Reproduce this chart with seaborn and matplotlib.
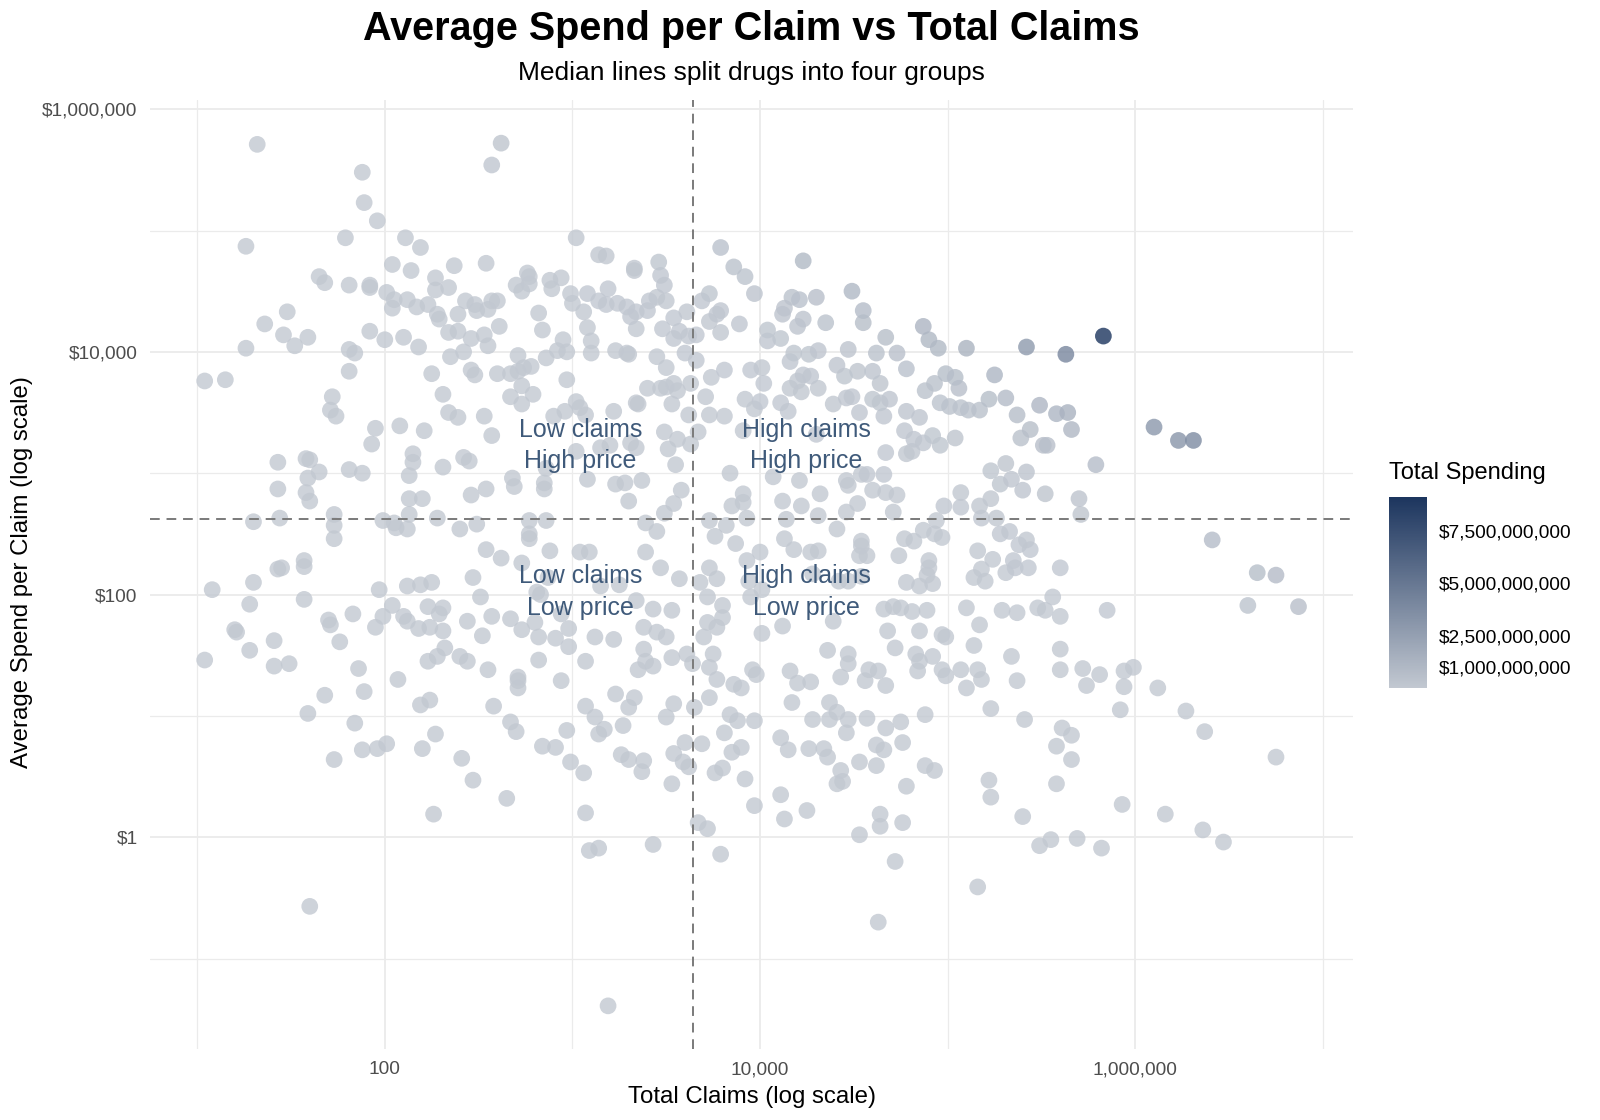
import numpy as np
import pandas as pd
import matplotlib
matplotlib.use("Agg")
from matplotlib import pyplot as plt
from matplotlib.colors import LinearSegmentedColormap, Normalize
from matplotlib.ticker import FixedLocator, FuncFormatter, NullFormatter
import seaborn as sns

# values; both axes are log scale so they are kept as log10
log_claims = [
    # upper left
    1.32, 1.88, 1.89, 1.96, 1.26, 1.79, 2.11, 2.19, 2.04, 2.14,
    2.37, 1.65, 1.68, 1.81, 1.92, 1.92, 2.27, 2.27, 2.34, 2.01,
    2.05, 2.04, 2.12, 2.17, 2.23, 2.28, 2.29, 2.39, 2.43, 2.48,
    2.49, 1.48, 1.36, 1.46, 1.52, 1.59, 1.26, 1.92, 2.00, 2.10,
    2.18, 2.34, 2.39, 2.46, 1.81, 1.84, 1.81, 2.35, 2.42, 2.46,
    2.48, 2.25, 1.04, 1.15, 1.72, 1.71, 1.74, 2.31, 2.34, 2.39,
    # upper centre
    2.62, 2.57, 3.02, 3.14, 3.18, 3.33, 3.33, 3.46, 3.47, 3.49,
    3.79, 3.86, 3.92, 3.97, 2.54, 2.76, 2.77, 2.70, 2.73, 2.77,
    2.88, 2.94, 2.89, 2.99, 3.00, 3.08, 3.19, 3.14, 3.18, 3.24,
    3.29, 3.31, 3.34, 3.40, 3.41, 3.45, 3.50, 3.06, 3.08, 3.10,
    3.10, 3.34, 3.48, 3.54, 3.54, 3.57, 3.61, 3.62, 3.66, 3.69,
    3.73, 3.77, 3.79, 3.73, 3.79, 3.89, 4.04, 4.04, 2.57, 2.60,
    2.55, 2.61, 2.53, 2.55, 2.82, 2.84, 2.95, 2.92, 2.97, 2.86,
    2.71, 2.78, 2.60, 2.67, 2.71, 2.74, 2.73, 2.79, 2.67, 2.73,
    2.97, 3.23, 3.29, 3.30, 3.45, 3.50, 3.60, 3.66, 3.74, 3.81,
    3.95, 4.01, 4.02, 3.92, 4.00, 3.71, 3.63, 3.54, 3.56, 3.47,
    3.40, 3.50, 3.34, 3.35, 3.53, 3.22, 3.02, 3.04, 2.96, 2.90,
    3.07, 2.53, 3.62, 3.73, 3.81, 3.97,
    # upper right
    4.23, 4.49, 4.55, 4.55, 4.30, 4.17, 4.21, 4.13, 4.12, 4.23,
    4.20, 4.35, 4.11, 4.67, 4.87, 4.90, 4.95, 5.10, 5.42, 5.63,
    4.47, 4.62, 4.73, 4.31, 4.26, 4.18, 4.16, 4.41, 4.45, 4.52,
    4.60, 4.64, 4.78, 4.23, 4.27, 4.20, 4.16, 4.22, 4.31, 4.99,
    4.93, 5.04, 5.06, 4.88, 5.25, 5.22, 5.31, 5.49, 5.58, 5.37,
    5.17, 5.11, 5.07, 5.01, 4.96, 4.39, 4.46, 4.49, 4.60, 4.64,
    4.69, 4.66, 4.78, 4.85, 4.11, 4.15, 4.53, 5.83, 5.64,
    # middle left
    1.95, 1.93, 2.08, 2.21, 2.57, 1.43, 1.58, 1.60, 1.65, 1.59,
    1.43, 1.58, 1.60, 1.81, 1.88, 2.15, 2.15, 2.13, 2.31, 2.42,
    2.45, 2.13, 2.20, 2.46, 2.54, 2.68, 2.69, 2.85, 2.85, 2.86,
    3.02, 1.30, 1.44, 1.73, 1.73, 1.73, 1.99, 2.05, 2.06, 2.12,
    2.13, 2.28, 2.40, 2.49, 2.77, 2.77, 2.77, 2.86, 2.88, 2.54,
    2.62, 2.73, 3.04, 1.08, 1.30, 1.28, 1.43, 1.45, 1.57, 1.57,
    1.57, 1.20, 1.21, 1.28, 1.41, 1.04, 1.41, 1.49, 1.70, 1.71,
    1.76, 1.83, 1.86, 1.89, 1.68, 1.59, 1.84, 1.97, 1.99, 1.95,
    2.04, 2.10, 2.12, 2.12, 2.19, 2.25, 2.23, 2.31, 2.29, 2.18,
    2.24, 2.31, 2.32, 2.28, 2.23, 2.40, 2.44, 2.07, 2.19, 2.24,
    2.47, 2.51, 2.44, 2.52, 2.57, 2.67, 2.73, 2.80, 2.82, 2.91,
    2.98, 2.98, 2.81, 2.83, 2.87, 2.94, 2.82, 2.55, 2.71, 2.71,
    2.71, 2.94, 2.58, 2.67, 2.70, 2.97, 2.27,
    # middle centre
    3.49, 3.56, 3.51, 3.63, 3.67, 3.55, 3.31, 3.34, 3.20, 3.15,
    3.08, 3.23, 3.28, 3.37, 3.30, 3.58, 3.54, 3.49, 3.39, 3.45,
    3.39, 3.47, 3.57, 3.68, 3.09, 3.15, 3.25, 3.34, 3.43, 3.53,
    3.38, 3.45, 3.50, 3.12, 3.22, 3.38, 3.39, 3.43, 3.35, 3.53,
    3.61, 3.64, 3.07, 3.23, 3.33, 3.30, 3.07, 3.54, 3.50, 3.65,
    3.12, 3.17, 3.27, 3.14, 3.73, 3.82, 3.76, 3.87, 3.84, 3.91,
    3.91, 3.85, 3.93, 3.73, 3.77, 3.93, 4.00, 3.94, 4.01, 3.95,
    3.72, 3.80, 3.80, 3.72, 3.77, 3.70, 3.75, 3.73, 3.77, 3.86,
    3.90, 3.73, 3.84, 3.88, 3.81, 3.97, 3.96, 3.98, 4.01, 4.12,
    4.07, 4.12, 4.21, 4.22, 4.14, 4.13, 4.18, 4.27, 4.31, 4.32,
    4.31, 4.41, 4.46, 4.47, 4.54, 4.57, 4.60, 4.66, 4.67, 4.73,
    4.52, 4.46, 4.71, 4.67, 4.78, 4.81, 4.87, 4.96, 5.04, 4.77,
    4.82, 4.92, 4.98, 5.07, 5.07, 4.94, 4.87, 4.93, 4.97, 4.77,
    4.82, 4.74, 4.54, 4.54, 4.53, 4.57, 4.28, 4.42, 4.47, 4.54,
    4.90, 4.90, 4.89, 4.92, 4.85, 4.78, 4.66, 4.71, 4.75, 4.81,
    4.89, 5.10, 4.39, 4.68, 4.85, 4.97, 4.99, 4.72, 4.36, 4.47,
    4.47, 4.16, 4.20, 4.27, 4.43, 4.58, 4.63, 4.56, 4.67, 4.83,
    4.85, 4.84, 4.92, 4.97, 4.99, 5.07, 5.10, 4.17, 4.37, 4.41,
    4.28, 4.37, 4.47, 4.57, 4.67, 4.75, 4.88, 4.46, 4.11, 4.30,
    3.91,
    # middle right
    6.10, 6.23, 6.31, 5.66, 5.39, 5.44, 5.51, 5.53, 5.79, 5.23,
    5.31, 5.28, 5.34, 5.42, 5.40, 5.23, 5.17, 5.18, 5.26, 5.52,
    5.70, 5.71, 5.28, 5.33, 5.38, 5.42, 5.44, 5.16, 5.24, 5.35,
    5.36, 5.31, 5.43, 5.60, 5.18, 5.20, 5.14, 6.41, 6.65, 6.75,
    6.60, 6.87, 5.29, 5.37, 5.48, 5.52, 5.56, 5.60, 5.85, 5.17,
    5.14, 5.34, 5.60, 5.60, 5.72, 5.81, 5.74, 5.94, 5.99, 5.94,
    6.12, 5.37, 5.16, 5.18, 5.23, 5.41, 5.92, 6.27, 6.37, 5.61,
    5.66,
    # lower left
    1.73, 1.88, 1.96, 2.01, 2.20, 2.41, 2.47, 2.65, 2.26, 1.60,
    2.84, 2.91, 2.99, 3.06, 3.07, 3.09, 3.14, 3.19, 3.26, 3.30,
    3.38, 3.37, 3.53, 3.54, 3.59, 3.62, 3.60, 3.69, 3.43, 3.67,
    3.72, 3.79, 3.76, 3.80, 3.85, 3.90, 3.92, 3.97,
    # lower right
    4.15, 4.26, 4.34, 4.36, 4.53, 4.62, 4.66, 4.62, 4.76, 4.43,
    4.41, 4.44, 4.11, 4.25, 4.13, 4.64, 4.64, 4.76, 4.53, 4.72,
    4.63, 4.88, 4.93, 4.78, 5.22, 5.23, 5.40, 5.16, 5.49, 5.55,
    5.69, 5.82, 5.58, 5.66, 5.58, 5.93, 6.16, 6.36, 6.47, 6.75,
]

log_avg_spend = [
    # upper left
    5.71, 5.48, 5.23, 5.08, 4.87, 4.94, 4.94, 4.86, 4.72, 4.67,
    4.71, 4.62, 4.57, 4.55, 4.55, 4.53, 4.61, 4.51, 4.53, 4.49,
    4.43, 4.36, 4.43, 4.37, 4.39, 4.31, 4.27, 4.31, 4.42, 4.39,
    4.34, 4.33, 4.23, 4.14, 4.05, 4.12, 4.03, 4.17, 4.10, 4.12,
    4.04, 4.16, 4.17, 4.11, 4.02, 3.99, 3.84, 3.96, 4.00, 3.85,
    3.81, 3.82, 3.76, 3.77, 3.63, 3.52, 3.47, 3.65, 3.50, 3.46,
    # upper centre
    5.72, 5.54, 4.94, 4.80, 4.79, 4.69, 4.67, 4.74, 4.63, 4.55,
    4.86, 4.70, 4.62, 4.48, 4.73, 4.65, 4.62, 4.55, 4.50, 4.56,
    4.59, 4.61, 4.52, 4.48, 4.40, 4.48, 4.52, 4.42, 4.39, 4.40,
    4.37, 4.29, 4.33, 4.34, 4.42, 4.45, 4.42, 4.33, 4.20, 4.09,
    3.99, 4.19, 4.19, 4.28, 4.11, 4.17, 4.33, 4.13, 4.14, 4.42,
    4.48, 4.31, 4.34, 4.25, 4.16, 4.23, 4.18, 4.09, 4.42, 4.42,
    4.35, 4.21, 4.14, 4.05, 4.32, 4.18, 4.10, 4.01, 4.00, 3.95,
    3.97, 3.88, 3.82, 3.82, 3.84, 3.87, 3.72, 3.65, 3.63, 3.57,
    3.77, 4.01, 3.99, 3.98, 3.96, 3.87, 3.99, 3.93, 3.79, 3.85,
    3.85, 3.87, 3.74, 3.61, 3.59, 3.63, 3.74, 3.74, 3.68, 3.70,
    3.70, 3.71, 3.58, 3.57, 3.57, 3.51, 3.59, 3.54, 3.51, 3.47,
    3.48, 3.47, 3.48, 3.48, 3.47, 3.53,
    # upper right
    4.75, 4.50, 4.34, 4.24, 4.45, 4.45, 4.43, 4.36, 4.31, 4.27,
    4.21, 4.24, 4.11, 4.12, 4.21, 4.10, 4.03, 4.03, 4.04, 3.98,
    4.02, 3.99, 3.99, 4.01, 3.98, 3.99, 3.92, 3.89, 3.80, 3.84,
    3.84, 3.74, 3.86, 3.81, 3.80, 3.76, 3.70, 3.67, 3.70, 3.82,
    3.74, 3.79, 3.70, 3.68, 3.81, 3.61, 3.62, 3.56, 3.49, 3.48,
    3.52, 3.52, 3.54, 3.55, 3.58, 3.57, 3.62, 3.63, 3.61, 3.58,
    3.61, 3.47, 3.51, 3.46, 3.58, 3.51, 3.50, 4.13, 3.50,
    # middle left
    3.37, 3.24, 3.39, 3.35, 3.31, 3.09, 3.12, 3.11, 3.01, 2.96,
    2.87, 2.84, 2.77, 3.03, 3.00, 3.16, 3.09, 2.98, 3.05, 3.13,
    3.10, 2.79, 2.79, 2.82, 2.87, 2.96, 2.89, 2.87, 2.92, 3.04,
    3.18, 2.60, 2.63, 2.66, 2.57, 2.46, 2.61, 2.59, 2.55, 2.54,
    2.66, 2.63, 2.54, 2.58, 2.61, 2.50, 2.46, 2.61, 2.36, 2.37,
    2.30, 2.26, 2.35, 2.04, 2.10, 1.92, 2.21, 2.22, 2.28, 2.23,
    1.96, 1.71, 1.69, 1.54, 1.62, 1.46, 1.41, 1.43, 1.79, 1.75,
    1.61, 1.84, 1.39, 1.20, 1.17, 1.02, 0.94, 2.04, 1.82, 1.73,
    1.91, 1.82, 1.78, 2.07, 2.08, 2.10, 1.90, 1.89, 1.84, 1.72,
    1.73, 1.70, 1.56, 1.49, 1.45, 1.49, 1.45, 1.30, 1.09, 1.13,
    2.14, 1.98, 1.78, 1.66, 1.82, 1.80, 1.71, 1.77, 1.65, 1.64,
    1.72, 1.57, 2.02, 2.00, 2.14, 1.84, 1.46, 1.38, 1.32, 1.29,
    1.23, 1.29, 1.08, 0.95, 0.87, 0.88, 0.85,
    # middle centre
    3.34, 3.28, 3.20, 3.24, 3.34, 3.07, 3.25, 3.21, 3.23, 3.21,
    2.95, 2.91, 2.92, 2.94, 2.77, 2.86, 2.75, 2.67, 2.59, 2.52,
    2.35, 2.22, 2.13, 2.10, 2.35, 2.07, 2.08, 1.95, 1.88, 1.87,
    1.73, 1.69, 1.65, 1.65, 1.63, 1.55, 1.45, 1.41, 1.38, 1.48,
    1.51, 1.43, 1.45, 1.18, 1.15, 1.07, 1.08, 1.10, 0.99, 1.07,
    0.99, 0.89, 0.92, 0.85, 2.61, 2.57, 2.48, 2.42, 3.00, 2.83,
    2.76, 2.73, 2.63, 2.22, 2.13, 2.28, 2.35, 2.11, 2.04, 1.98,
    1.98, 1.91, 1.81, 1.77, 1.73, 1.65, 1.51, 1.40, 1.30, 1.26,
    1.23, 1.15, 1.01, 0.96, 0.86, 0.96, 1.38, 1.34, 1.68, 1.74,
    2.97, 2.77, 2.94, 2.73, 2.62, 2.46, 2.37, 2.35, 2.36, 2.83,
    2.65, 2.54, 2.94, 2.90, 2.99, 2.99, 2.86, 2.99, 2.84, 2.82,
    2.75, 2.68, 2.68, 3.17, 3.16, 3.18, 3.25, 3.23, 3.29, 3.35,
    3.28, 3.31, 2.73, 2.84, 2.72, 2.61, 2.53, 2.50, 2.47, 2.46,
    2.44, 2.32, 2.44, 2.40, 2.32, 2.32, 2.17, 2.11, 2.11, 2.15,
    2.28, 2.22, 2.16, 2.09, 2.07, 2.10, 1.88, 1.90, 1.89, 1.86,
    1.87, 1.89, 1.78, 1.70, 1.70, 1.67, 1.65, 1.56, 1.54, 1.51,
    1.43, 1.37, 1.27, 1.28, 1.32, 1.38, 1.37, 1.29, 1.25, 1.51,
    1.45, 1.37, 1.49, 1.38, 1.33, 1.38, 1.23, 1.11, 1.11, 1.03,
    0.97, 0.97, 0.97, 0.98, 0.90, 0.95, 1.01, 0.86, 0.82, 3.32,
    3.35,
    # middle right
    3.38, 3.27, 3.27, 3.36, 3.29, 3.36, 3.23, 3.23, 3.07, 3.02,
    3.08, 2.91, 2.95, 3.01, 2.86, 2.79, 2.73, 2.63, 2.63, 2.83,
    2.79, 2.66, 2.50, 2.52, 2.41, 2.45, 2.37, 2.36, 2.29, 2.28,
    2.22, 2.18, 2.22, 2.22, 2.21, 2.11, 2.14, 2.45, 2.18, 2.16,
    1.91, 1.90, 1.87, 1.85, 1.89, 1.87, 1.98, 1.82, 1.87, 1.75,
    1.58, 1.49, 1.55, 1.38, 1.39, 1.34, 1.25, 1.37, 1.40, 1.24,
    1.23, 1.29, 1.38, 1.30, 1.06, 0.97, 1.05, 1.04, 0.87, 0.90,
    0.84,
    # lower left
    0.64, 0.72, 0.73, 0.77, 0.73, 0.65, 0.47, 0.32, 0.19, -0.57,
    0.75, 0.74, 0.62, 0.53, 0.20, -0.11, -0.09, -1.39, 0.68, 0.64,
    0.63, 0.54, 0.44, 0.69, 0.62, 0.58, 0.78, 0.77, -0.06, 0.12,
    0.07, -0.14, 0.53, 0.57, 0.70, 0.74, 0.48, 0.26,
    # lower right
    0.72, 0.73, 0.73, 0.66, 0.62, 0.59, 0.72, 0.76, 0.78, 0.55,
    0.44, 0.46, 0.35, 0.22, 0.15, 0.19, 0.09, 0.12, 0.02, -0.20,
    -0.70, 0.59, 0.55, 0.42, 0.47, 0.33, 0.17, -0.41, -0.07, -0.02,
    -0.01, -0.09, 0.44, 0.64, 0.75, 0.27, 0.19, 0.06, -0.04, 0.66,
]

quadrant_labels = ['Low claims\nHigh price', 'High claims\nHigh price',
                   'Low claims\nLow price', 'High claims\nLow price']
spend_ticks = [1e9, 2.5e9, 5e9, 7.5e9]

assert len(log_claims) == len(log_avg_spend)

df = pd.DataFrame({'claims': 10 ** np.array(log_claims),
                   'avg_spend': 10 ** np.array(log_avg_spend)})
df['total'] = df['claims'] * df['avg_spend']
df = df.sort_values('total')

med_x = df['claims'].median()
med_y = df['avg_spend'].median()

sns.set_style('white')
plt.rcParams['font.family'] = ['Liberation Sans', 'DejaVu Sans']
plt.rcParams['text.color'] = 'black'

cmap = LinearSegmentedColormap.from_list('spend', ['#c2c8d1', '#1c355e'])
norm = Normalize(df['total'].min(), df['total'].max())

fig = plt.figure(figsize=(16, 11.2), dpi=100)
ax = fig.add_axes([0.09375, 0.0634, 0.752, 0.8473])
ax.set_xscale('log')
ax.set_yscale('log')
sns.scatterplot(data=df, x='claims', y='avg_spend', hue='total', palette=cmap,
                hue_norm=norm, s=145, alpha=0.8, linewidth=0, legend=False, ax=ax)
ax.margins(0.05)

ax.xaxis.set_major_locator(FixedLocator([1e2, 1e4, 1e6]))
ax.xaxis.set_minor_locator(FixedLocator([1e1, 1e3, 1e5, 1e7]))
ax.yaxis.set_major_locator(FixedLocator([1, 1e2, 1e4, 1e6]))
ax.yaxis.set_minor_locator(FixedLocator([1e-1, 1e1, 1e3, 1e5]))
ax.xaxis.set_major_formatter(FuncFormatter(lambda v, p: f'{v:,.0f}'))
ax.yaxis.set_major_formatter(FuncFormatter(lambda v, p: f'${v:,.0f}'))
ax.xaxis.set_minor_formatter(NullFormatter())
ax.yaxis.set_minor_formatter(NullFormatter())
ax.grid(which='major', color='#ebebeb', lw=1.3)
ax.grid(which='minor', color='#ebebeb', lw=0.9)
ax.set_axisbelow(True)
ax.tick_params(which='both', length=0, labelsize=13.8, labelcolor='#4d4d4d')
ax.tick_params(axis='x', pad=9)
ax.tick_params(axis='y', pad=9)
for s in ax.spines.values():
    s.set_visible(False)
ax.set_xlabel('')
ax.set_ylabel('')

# median split lines
ax.axvline(med_x, color='#7a7a7a', lw=1.4, ls=(0, (5, 3.5)), zorder=3)
ax.axhline(med_y, color='#7a7a7a', lw=1.4, ls=(0, (5, 3.5)), zorder=3)

spots = [(med_x / 4, med_y * 4), (med_x * 4, med_y * 4),
         (med_x / 4, med_y / 4), (med_x * 4, med_y / 4)]
for (tx, ty), lab in zip(spots, quadrant_labels):
    ax.text(tx, ty, lab, ha='center', va='center', fontsize=18,
            color='#3f5a7a', linespacing=1.4, zorder=4)

fig.text(0.4697, 0.974, 'Average Spend per Claim vs Total Claims',
         ha='center', va='center', fontsize=28.5, fontweight='bold', color='black')
fig.text(0.4697, 0.935, 'Median lines split drugs into four groups',
         ha='center', va='center', fontsize=19, color='black')
fig.text(0.4697, 0.0205, 'Total Claims (log scale)', ha='center', va='center',
         fontsize=17.3, color='black')
fig.text(0.0138, 0.489, 'Average Spend per Claim (log scale)', ha='center',
         va='center', rotation=90, fontsize=17.3, color='black')

# colour bar legend
cax = fig.add_axes([0.868, 0.3857, 0.02375, 0.1705])
sm = plt.cm.ScalarMappable(norm=norm, cmap=cmap)
cb = fig.colorbar(sm, cax=cax)
cb.outline.set_visible(False)
cb.set_ticks(spend_ticks)
cax.yaxis.set_major_formatter(FuncFormatter(lambda v, p: f'${v:,.0f}'))
cax.yaxis.set_minor_locator(FixedLocator([]))
cax.tick_params(axis='y', which='major', direction='in', color='white',
                length=6, width=1, left=True, right=True, labelsize=13.8,
                pad=9, labelcolor='black')
fig.text(0.868, 0.578, 'Total Spending', ha='left', va='center', fontsize=17,
         color='black')

fig.savefig('out.png', dpi=100)
